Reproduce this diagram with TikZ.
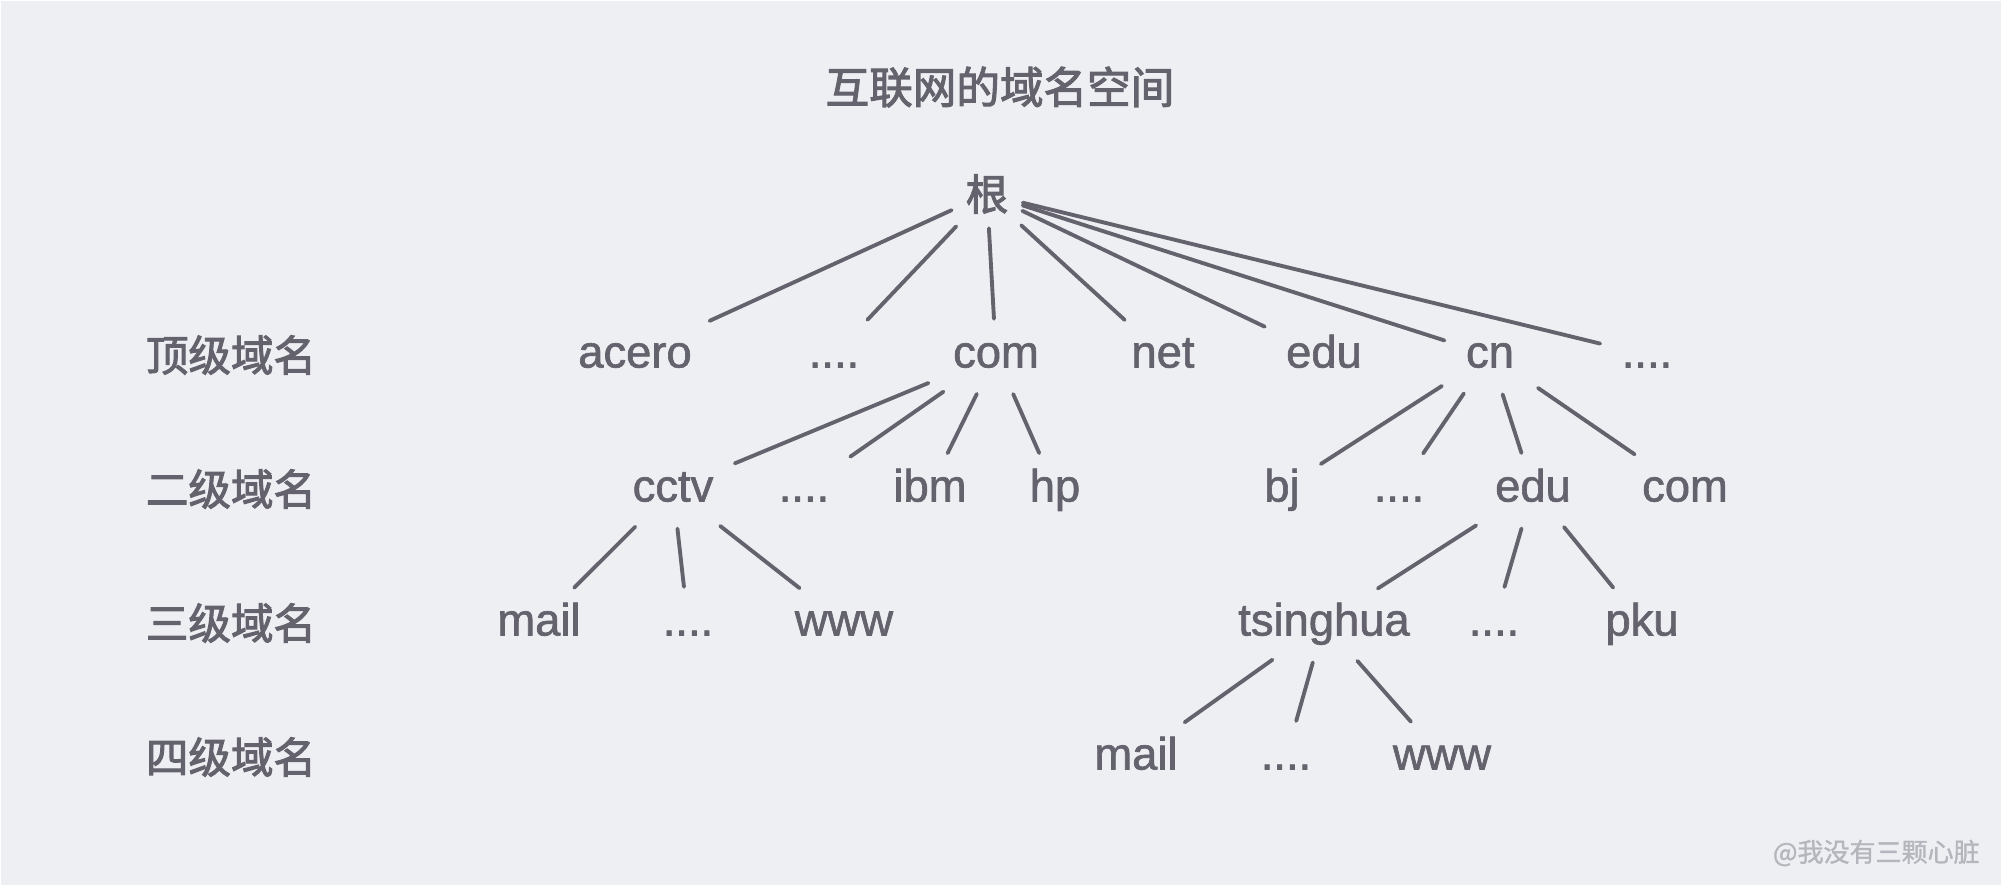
\documentclass[tikz,border=0pt]{standalone}
\usepackage{fontspec}
\setmainfont[FakeBold=1.4]{Liberation Sans}
\newfontfamily\cjk[FakeBold=2.4]{Noto Sans CJK SC}
\newfontfamily\cjkmark[FakeBold=1.2]{Noto Sans CJK SC}
\definecolor{bgcol}{HTML}{EEEFF3}
\definecolor{inkcol}{HTML}{64636D}
\definecolor{markcol}{HTML}{B5B6BD}
\tikzset{
	lvl/.style={font=\cjk\fontsize{12.1}{14}\selectfont, text=inkcol},
	dom/.style={font=\fontsize{12.9}{15}\selectfont, text=inkcol, inner sep=5pt, text height=1.45ex, text depth=0.1ex},
	edge/.style={draw=inkcol, line width=1.1pt, line cap=round, shorten <=2pt, shorten >=1pt}
}
\begin{document}
\begin{tikzpicture}
		\fill[white] (0,0) rectangle (20.02,8.86);
		\fill[bgcol] (0.01,0.01) rectangle (20.01,8.85);
		\useasboundingbox (0,0) rectangle (20.02,8.86);

		\node[lvl, font=\cjk\fontsize{12.4}{14}\selectfont] (title) at (10.0,7.99) {互联网的域名空间};

		\node[lvl] (l1) at (2.31,5.31) {顶级域名};
		\node[lvl] (l2) at (2.31,3.97) {二级域名};
		\node[lvl] (l3) at (2.31,2.63) {三级域名};
		\node[lvl] (l4) at (2.31,1.29) {四级域名};

		% root
		\node[lvl, inner sep=2pt] (root) at (9.87,6.92) {根};

		% top level
		\node[dom] (acero) at (6.35,5.31) {acero};
		\node[dom] (dotsa) at (8.34,5.31) {....};
		\node[dom] (com) at (9.96,5.31) {com};
		\node[dom] (net) at (11.63,5.31) {net};
		\node[dom] (edu) at (13.24,5.31) {edu};
		\node[dom] (cn) at (14.90,5.31) {cn};
		\node[dom] (dotsb) at (16.47,5.31) {....};

		% second level
		\node[dom] (cctv) at (6.73,3.97) {cctv};
		\node[dom] (dotsc) at (8.04,3.97) {....};
		\node[dom] (ibm) at (9.30,3.97) {ibm};
		\node[dom] (hp) at (10.55,3.97) {hp};
		\node[dom] (bj) at (12.82,3.97) {bj};
		\node[dom] (dotsd) at (13.99,3.97) {....};
		\node[dom] (cnedu) at (15.33,3.97) {edu};
		\node[dom] (cncom) at (16.85,3.97) {com};

		% third level
		\node[dom] (mail) at (5.39,2.63) {mail};
		\node[dom] (dotse) at (6.88,2.63) {....};
		\node[dom] (www) at (8.44,2.63) {www};
		\node[dom] (thu) at (13.24,2.63) {tsinghua};
		\node[dom] (dotsf) at (14.94,2.63) {....};
		\node[dom] (pku) at (16.42,2.63) {pku};

		% fourth level
		\node[dom] (thumail) at (11.36,1.29) {mail};
		\node[dom] (dotsg) at (12.86,1.29) {....};
		\node[dom] (thuwww) at (14.42,1.29) {www};

		\draw[edge] (root) -- (acero);
		\draw[edge] (root) -- (dotsa);
		\draw[edge] (root) -- (com);
		\draw[edge] (root) -- (net);
		\draw[edge] (root) -- (edu);
		\draw[edge] (root) -- (cn);
		\draw[edge] (root) -- (dotsb);

		\draw[edge] (com) -- (cctv);
		\draw[edge] (com) -- (dotsc);
		\draw[edge] (com) -- (ibm);
		\draw[edge] (com) -- (hp);
		\draw[edge] (cn) -- (bj);
		\draw[edge] (cn) -- (dotsd);
		\draw[edge] (cn) -- (cnedu);
		\draw[edge] (cn) -- (cncom);

		\draw[edge] (cctv) -- (mail);
		\draw[edge] (cctv) -- (dotse);
		\draw[edge] (cctv) -- (www);
		\draw[edge] (cnedu) -- (thu);
		\draw[edge] (cnedu) -- (dotsf);
		\draw[edge] (cnedu) -- (pku);

		\draw[edge] (thu) -- (thumail);
		\draw[edge] (thu) -- (dotsg);
		\draw[edge] (thu) -- (thuwww);

		\node[font=\cjkmark\fontsize{7.4}{9}\selectfont, text=markcol, anchor=east] (mark) at (19.92,0.33) {@我没有三颗心脏};
	\end{tikzpicture}
\end{document}
